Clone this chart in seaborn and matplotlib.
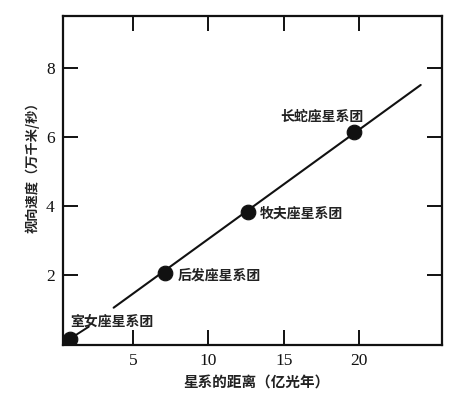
import matplotlib
matplotlib.use("Agg")
import matplotlib.pyplot as plt
import seaborn as sns
import pandas as pd

# Data
clusters = ["室女座星系团", "后发座星系团", "牧夫座星系团", "长蛇座星系团"]
distance = [0.8, 7.1, 12.6, 19.7]      # 亿光年
velocity = [0.15, 2.06, 3.83, 6.14]    # 万千米/秒
fit_x = [3.7, 24.1]
fit_y = [1.05, 7.5]
label_x = [0.8, 7.93, 13.4, 14.8]
label_y = [0.64, 1.98, 3.78, 6.57]
x_ticks = [5, 10, 15, 20]
y_ticks = [2, 4, 6, 8]

sns.set_theme(style="ticks")
plt.rcParams["font.family"] = ["Noto Sans CJK SC", "DejaVu Sans"]

fig = plt.figure(figsize=(4.73, 3.97), dpi=100)
ax = fig.add_axes([0.133, 0.131, 0.801, 0.829])

df = pd.DataFrame({"distance": distance, "velocity": velocity, "cluster": clusters})
sns.lineplot(x=fit_x, y=fit_y, ax=ax, color="#111111", linewidth=1.5)
sns.scatterplot(data=df, x="distance", y="velocity", ax=ax, s=110,
                color="#111111", edgecolor="#111111", zorder=5)

# leader line for Virgo
ax.annotate("", xy=(distance[0], velocity[0]), xytext=(2.05, 0.5),
            arrowprops=dict(arrowstyle="-", color="#111111", lw=1.4,
                            shrinkA=0, shrinkB=4))

for name, lx, ly in zip(clusters, label_x, label_y):
    ax.text(lx, ly, name, fontsize=10, fontweight="bold", ha="left", va="center",
            color="#222222")

ax.set_xlim(0.33, 25.5)
ax.set_ylim(-0.03, 9.5)
ax.set_xticks(x_ticks)
ax.set_yticks(y_ticks)
ax.tick_params(direction="in", length=11, width=1.4, top=True, right=True,
               labelsize=12.5, colors="#111111", pad=6)
for lab in ax.get_xticklabels() + ax.get_yticklabels():
    lab.set_fontfamily("Liberation Serif")
for sp in ax.spines.values():
    sp.set_linewidth(1.6)
    sp.set_color("#111111")

ax.set_xlabel("星系的距离（亿光年）", fontsize=10.5, fontweight="bold", color="#222222")
ax.set_ylabel("视向速度（万千米/秒）", fontsize=9.5, fontweight="bold", color="#222222")
ax.xaxis.set_label_coords(0.51, -0.09)
ax.yaxis.set_label_coords(-0.062, 0.55)

fig.savefig("out.png", dpi=100)
